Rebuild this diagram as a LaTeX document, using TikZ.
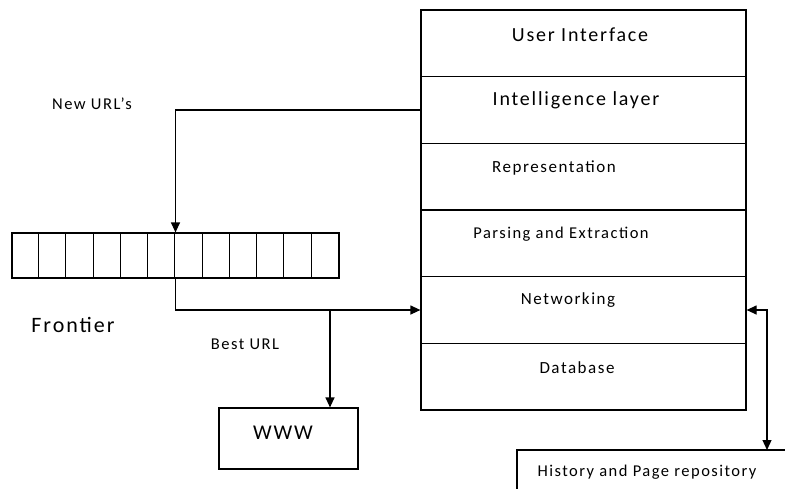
\documentclass[tikz,border=0pt]{standalone}
\usepackage{fontspec}
\setmainfont{Carlito}[LetterSpace=9]
\usetikzlibrary{arrows.meta,calc}
\begin{document}
\begin{tikzpicture}[x=1pt,y=-1pt,
  line width=1.2pt,
  layer/.style={draw,rectangle,minimum width=325pt,minimum height=66.7pt,inner sep=0pt},
  lbl/.style={inner sep=0pt,anchor=center},
  arr/.style={-{Triangle[length=10pt,width=9pt]}},
  arrboth/.style={{Triangle[length=10pt,width=9pt]}-{Triangle[length=10pt,width=9pt]}},
  plainbox/.style={draw,rectangle,inner sep=0pt}]
\useasboundingbox (0,0) rectangle (785,488);
% layered stack
\node[layer] (ui)    at (583.5,43.3) {};
\node[layer] (intel) at (583.5,110.0) {};
\node[layer] (repr)  at (583.5,176.7) {};
\node[layer] (pars)  at (583.5,243.3) {};
\node[layer] (net)   at (583.5,310.0) {};
\node[layer] (db)    at (583.5,376.7) {};
\node[lbl,font=\fontsize{20}{22}\selectfont] (tui) at (580,35) {User Interface};
\node[lbl,font=\fontsize{20}{22}\selectfont] (tintel) at (576,100) {Intelligence layer};
\node[lbl,font=\fontsize{17}{19}\selectfont] (trepr) at (554,168) {Representation};
\node[lbl,font=\fontsize{16.5}{19}\selectfont] (tpars) at (561,234) {Parsing and Extraction};
\node[lbl,font=\fontsize{17}{19}\selectfont] (tnet) at (568,300) {Networking};
\node[lbl,font=\fontsize{17}{19}\selectfont] (tdb) at (577,368) {Database};
% frontier queue
\node[plainbox,minimum width=327pt,minimum height=45pt] (queue) at (175.5,255.5) {};
\foreach \i in {1,...,11}{
  \draw[line width=1pt] ($(queue.north west)+(\i*27.25,0)$) -- ($(queue.south west)+(\i*27.25,0)$);
}
\node[lbl,font=\fontsize{22}{24}\selectfont] (tfront) at (73,325) {Frontier};
\node[lbl,font=\fontsize{16.5}{19}\selectfont] (tnew) at (92,104) {New URL’s};
\node[lbl,font=\fontsize{16.5}{19}\selectfont] (tbest) at (245,344) {Best URL};
% WWW
\node[plainbox,minimum width=139pt,minimum height=61pt] (www) at (288.5,438.5) {};
\node[lbl,font=\fontsize{21}{23}\selectfont] (twww) at (283,433) {WWW};
% history
\node[plainbox,minimum width=290pt,minimum height=60pt] (hist) at (662,480) {};
\node[lbl,font=\fontsize{16.5}{19}\selectfont] (thist) at (647,472) {History and Page repository};
% connectors
\draw[arr] (intel.west) -| (queue.north);
\draw[arr] (queue.south) |- (net.west);
\coordinate (br) at (330,310);
\draw[arr] (br) -- (br |- www.north);
\coordinate (hp) at (767,450);
\draw[arrboth] (net.east) -| (hp);
\end{tikzpicture}
\end{document}
